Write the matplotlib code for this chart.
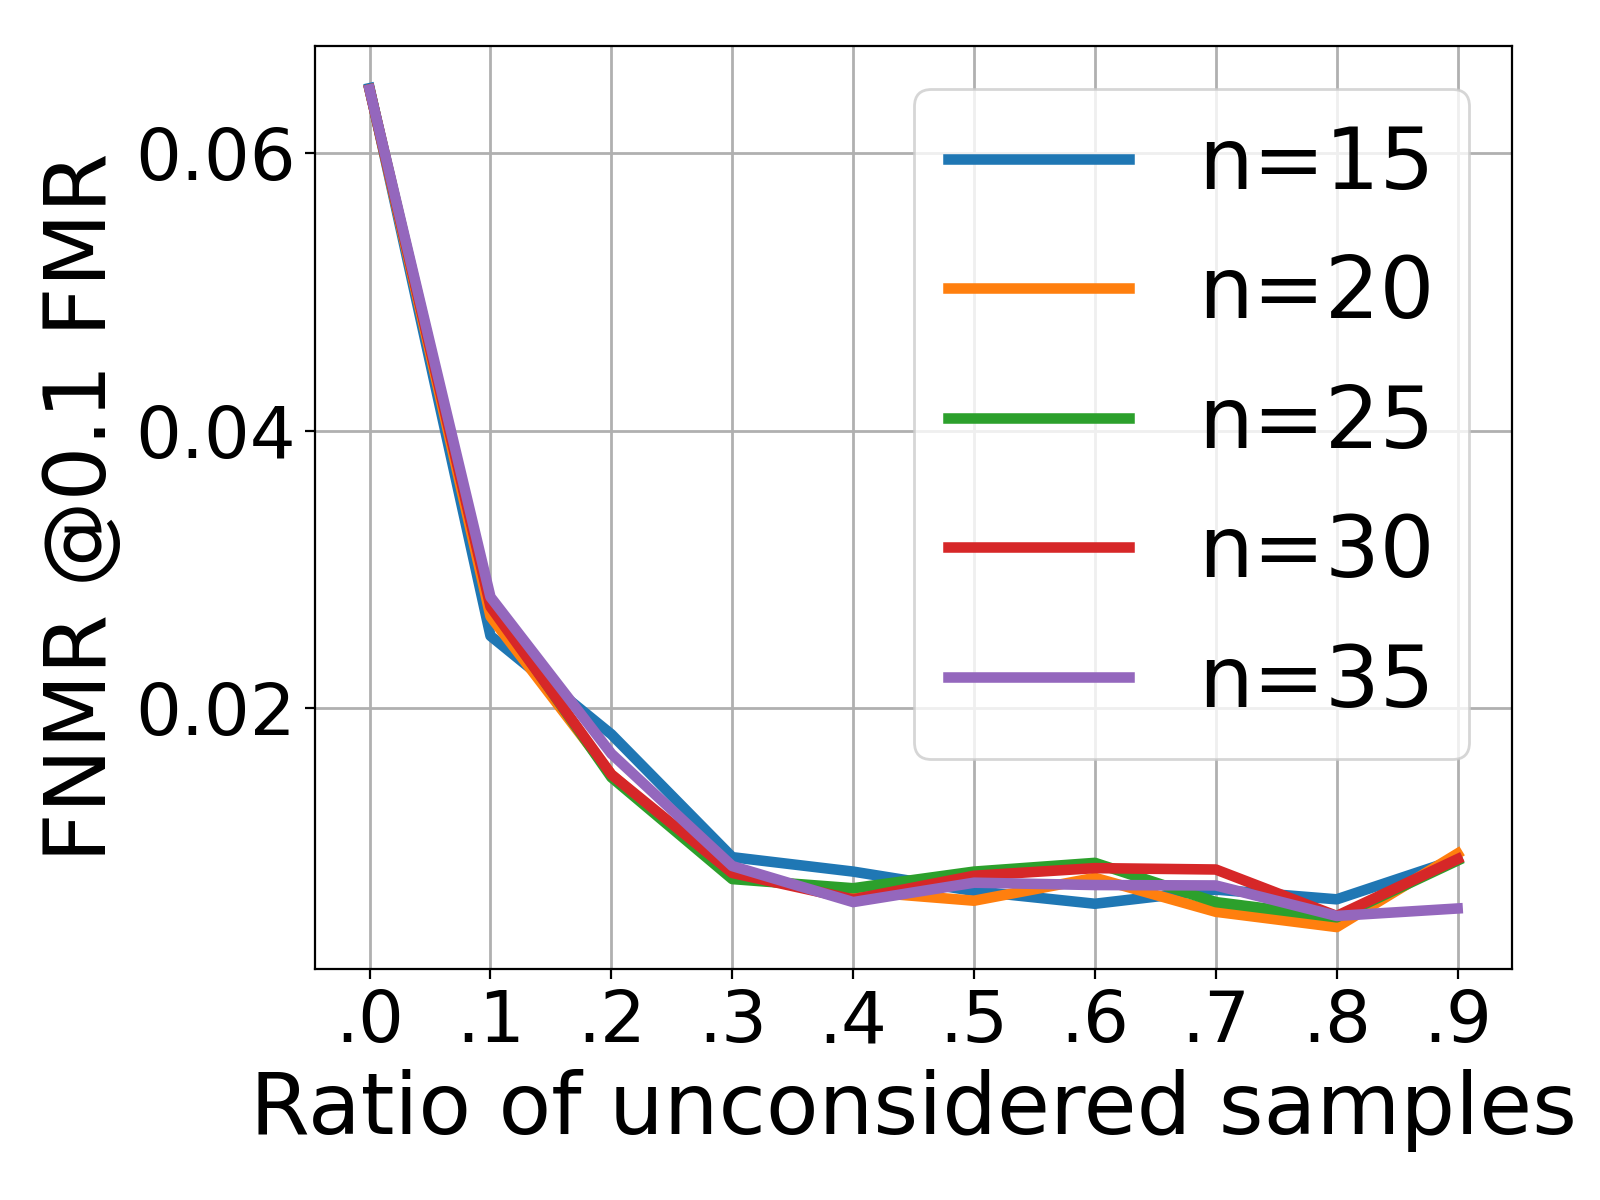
import matplotlib
matplotlib.use("Agg")
import matplotlib.pyplot as plt

ratios = [0.0, 0.1, 0.2, 0.3, 0.4, 0.5, 0.6, 0.7, 0.8, 0.9]
tick_labels = [".0", ".1", ".2", ".3", ".4", ".5", ".6", ".7", ".8", ".9"]
labels = ["n=15", "n=20", "n=25", "n=30", "n=35"]

n15 = [0.0647, 0.0252, 0.0181, 0.00924, 0.0082, 0.0068, 0.00588, 0.0069, 0.0062, 0.0091]
n20 = [0.0646, 0.0266, 0.0152, 0.0078, 0.0068, 0.0061, 0.00775, 0.0053, 0.0042, 0.0095]
n25 = [0.0646, 0.0275, 0.0150, 0.00766, 0.0070, 0.0082, 0.00883, 0.0060, 0.0049, 0.0090]
n30 = [0.0646, 0.0273, 0.0152, 0.0081, 0.0062, 0.0079, 0.00845, 0.00835, 0.0050, 0.0091]
n35 = [0.0646, 0.0280, 0.0167, 0.0086, 0.0060, 0.0074, 0.00723, 0.0072, 0.0050, 0.00554]

series = [n15, n20, n25, n30, n35]

fig = plt.figure(figsize=(8, 6), dpi=200)
ax = fig.add_axes([0.197, 0.1925, 0.748, 0.769])
for ys, lab in zip(series, labels):
    ax.plot(ratios, ys, linewidth=3.8, label=lab)

ax.set_xticks(ratios)
ax.set_xticklabels(tick_labels)
ax.set_yticks([0.02, 0.04, 0.06])
ax.set_yticklabels(["0.02", "0.04", "0.06"])
ax.tick_params(axis="both", labelsize=26)
ax.grid(True, color="#b0b0b0", linewidth=1.0)
ax.set_xlabel("Ratio of unconsidered samples", fontsize=31)
ax.set_ylabel("FNMR @0.1 FMR", fontsize=31)
ax.legend(loc="upper right", fontsize=31, handlelength=2.1, handletextpad=0.8,
          labelspacing=0.54)

fig.savefig("out.png", dpi=200)
